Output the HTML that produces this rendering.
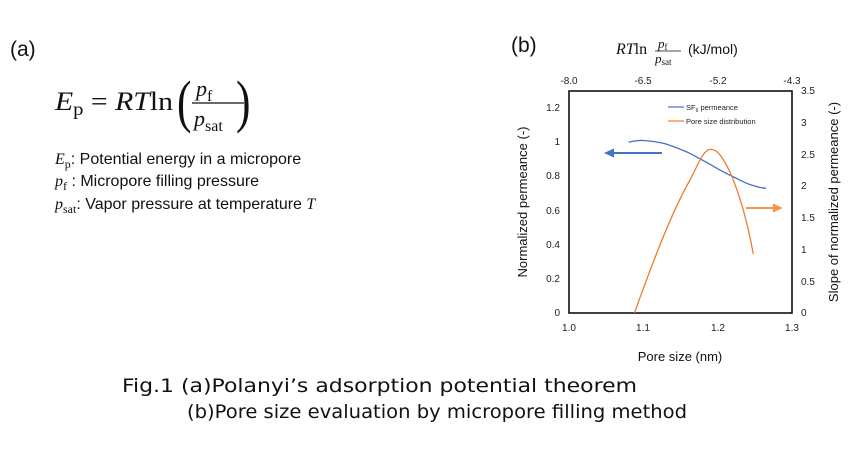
<!DOCTYPE html>
<html><head><meta charset="utf-8"><style>
html,body{margin:0;padding:0;background:#fff;width:856px;height:451px;overflow:hidden}
svg{display:block}
.s{font-family:"Liberation Sans",sans-serif}
.d{font-family:"DejaVu Sans","Liberation Sans",sans-serif}
.r{font-family:"Liberation Serif",serif}
</style></head><body>
<svg width="856" height="451" viewBox="0 0 856 451" xmlns="http://www.w3.org/2000/svg">
<!-- (a) -->
<text x="10" y="56" class="s" font-size="21" fill="#111">(a)</text>
<g class="r" fill="#111">
<text x="55" y="110" font-size="26" textLength="118" lengthAdjust="spacingAndGlyphs"><tspan font-style="italic">E</tspan><tspan font-size="18" dy="5">p</tspan><tspan dy="-5"> = </tspan><tspan font-style="italic">RT</tspan><tspan>ln</tspan></text>
<text transform="translate(177,121) scale(0.75,1)" font-size="58">(</text>
<text x="196" y="96" font-size="22" font-style="italic">p<tspan font-size="16" font-style="normal" dy="5">f</tspan></text>
<line x1="192" y1="103" x2="244" y2="103" stroke="#111" stroke-width="1.2"/>
<text x="194" y="126" font-size="22" font-style="italic">p<tspan font-size="16" font-style="normal" dy="5">sat</tspan></text>
<text transform="translate(236,121) scale(0.75,1)" font-size="58">)</text>
</g>
<g font-size="16" fill="#111">
<text x="55" y="164"><tspan class="r" font-style="italic">E</tspan><tspan class="r" font-size="12" dy="4">p</tspan><tspan class="s" dy="-4">: Potential energy in a micropore</tspan></text>
<text x="55" y="186"><tspan class="r" font-style="italic">p</tspan><tspan class="r" font-size="12" dy="4">f</tspan><tspan class="s" dy="-4"> : Micropore filling pressure</tspan></text>
<text x="55" y="209"><tspan class="r" font-style="italic">p</tspan><tspan class="r" font-size="12" dy="4">sat</tspan><tspan class="s" dy="-4">: Vapor pressure at temperature </tspan><tspan class="r" font-style="italic">T</tspan></text>
</g>
<!-- (b) -->
<text x="511" y="52" class="s" font-size="21" fill="#111">(b)</text>
<g fill="#111">
<text x="616" y="54" class="r" font-size="16" font-style="italic">RT<tspan font-style="normal">ln</tspan></text>
<text x="658" y="48" class="r" font-size="13" font-style="italic">p<tspan font-style="normal" font-size="9" dy="2">f</tspan></text>
<line x1="655" y1="51" x2="681" y2="51" stroke="#111" stroke-width="0.8"/>
<text x="655" y="63" class="r" font-size="13" font-style="italic">p<tspan font-style="normal" font-size="9" dy="2">sat</tspan></text>
<text x="688" y="54" class="s" font-size="14">(kJ/mol)</text>
</g>
<rect x="569" y="91" width="223" height="222" fill="none" stroke="#111" stroke-width="1.6"/>
<g class="s" font-size="10" fill="#222">
<g text-anchor="end">
<text x="560" y="316">0</text><text x="560" y="282">0.2</text><text x="560" y="248">0.4</text><text x="560" y="214">0.6</text><text x="560" y="179">0.8</text><text x="560" y="145">1</text><text x="560" y="111">1.2</text>
</g>
<g text-anchor="start">
<text x="801" y="316">0</text><text x="801" y="285">0.5</text><text x="801" y="253">1</text><text x="801" y="221">1.5</text><text x="801" y="189">2</text><text x="801" y="158">2.5</text><text x="801" y="126">3</text><text x="801" y="94">3.5</text>
</g>
<g text-anchor="middle">
<text x="569" y="331">1.0</text><text x="643" y="331">1.1</text><text x="718" y="331">1.2</text><text x="792" y="331">1.3</text>
<text x="569" y="84">-8.0</text><text x="643" y="84">-6.5</text><text x="718" y="84">-5.2</text><text x="792" y="84">-4.3</text>
</g>
</g>
<text x="680" y="361" class="s" font-size="13" text-anchor="middle" fill="#111">Pore size (nm)</text>
<text transform="translate(527,202) rotate(-90)" class="s" font-size="13" text-anchor="middle" fill="#111">Normalized permeance (-)</text>
<text transform="translate(838,202) rotate(-90)" class="s" font-size="13" text-anchor="middle" fill="#111">Slope of normalized permeance (-)</text>
<!-- legend -->
<line x1="668" y1="107" x2="684" y2="107" stroke="#4472c4" stroke-width="1.2"/>
<text x="686" y="110" class="s" font-size="7.5" fill="#222">SF<tspan font-size="5" dy="2">6</tspan><tspan dy="-2"> permeance</tspan></text>
<line x1="668" y1="121" x2="684" y2="121" stroke="#ed7d31" stroke-width="1.2"/>
<text x="686" y="124" class="s" font-size="7.5" fill="#222">Pore size distribution</text>
<!-- series -->
<path d="M628.5,142.2 C636,140.5 640,140.3 643.3,140.5 C652,141 658,142 665.6,143.9 C675,147 681,149.5 688,152.4 C697,157 703,160.5 710.2,164.4 C718,169 725,173 732.5,176.4 C740,180 745,183 751,184.9 C757,187 761,188 766,188.3" fill="none" stroke="#4472c4" stroke-width="1.3"/>
<path d="M634.4,313 C650,270 670,215 690,180 C698,165 703,150 710.2,149.4 C718,149 723,158 730,172 C740,195 748,225 753.3,254" fill="none" stroke="#ed7d31" stroke-width="1.3"/>
<!-- arrows -->
<line x1="662" y1="153" x2="612" y2="153" stroke="#4472c4" stroke-width="2"/>
<polygon points="604,153 614,148.5 614,157.5" fill="#4472c4"/>
<line x1="746" y1="208" x2="774" y2="208" stroke="#f79646" stroke-width="2"/>
<polygon points="783,208 773,203.5 773,212.5" fill="#f79646"/>
<!-- caption -->
<text x="122" y="392" class="d" font-size="19" fill="#111" textLength="515" lengthAdjust="spacingAndGlyphs">Fig.1 (a)Polanyi’s adsorption potential theorem</text>
<text x="187" y="418" class="d" font-size="19" fill="#111" textLength="500" lengthAdjust="spacingAndGlyphs">(b)Pore size evaluation by micropore filling method</text>
</svg>
</body></html>
